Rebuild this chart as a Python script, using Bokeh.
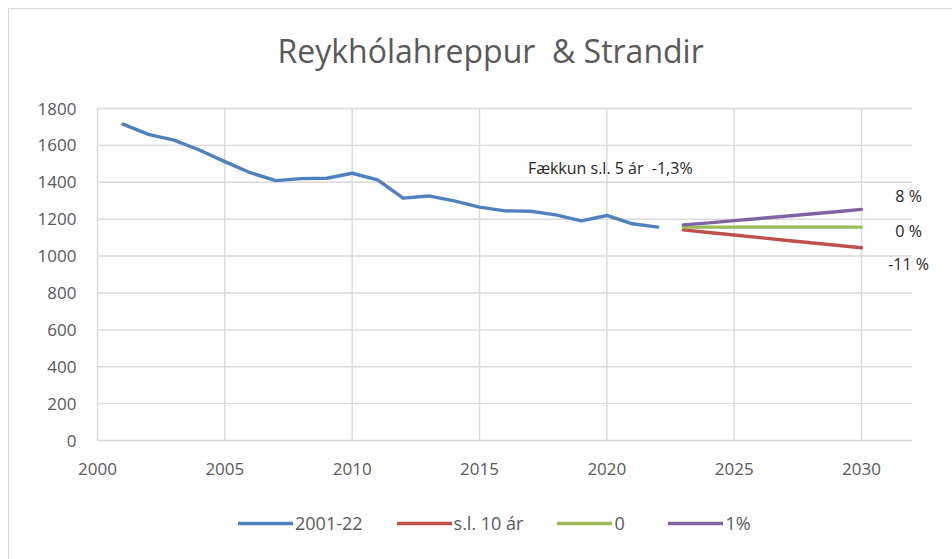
from bokeh.plotting import figure
from bokeh.models import Legend, LegendItem, Label, FixedTicker
from bokeh.embed import file_html
from bokeh.resources import INLINE

# ---- data ----
hist_years = [2001, 2002, 2003, 2004, 2005, 2006, 2007, 2008, 2009, 2010, 2011,
              2012, 2013, 2014, 2015, 2016, 2017, 2018, 2019, 2020, 2021, 2022]
hist_pop = [1715, 1660, 1629, 1575, 1512, 1452, 1409, 1420, 1422, 1449, 1413,
            1314, 1326, 1299, 1265, 1245, 1243, 1223, 1191, 1220, 1175, 1157]
proj_years = [2023, 2024, 2025, 2026, 2027, 2028, 2029, 2030]
proj_10yr = [1142, 1128, 1114, 1100, 1086, 1072, 1059, 1045]
proj_zero = [1157, 1157, 1157, 1157, 1157, 1157, 1157, 1157]
proj_1pct = [1169, 1180, 1192, 1204, 1216, 1228, 1240, 1253]
series_names = ["2001-22", "s.l. 10 ár", "0", "1%"]
end_labels = ["8 %", "0 %", "-11 %"]
title_text = "Reykhólahreppur\u00a0 & Strandir"
note_text = "Fækkun s.l. 5 ár \u00a0-1,3%"
x_ticks = [2000, 2005, 2010, 2015, 2020, 2025, 2030]
y_ticks = [0, 200, 400, 600, 800, 1000, 1200, 1400, 1600, 1800]
x_axis_end = 2032

FONT = "Open Sans"
TXT = "#595959"
GRID = "#d9d9d9"

p = figure(width=952, height=559, x_range=(1996.191, 2033.573), y_range=(-645, 1870.5),
           output_backend="svg", toolbar_location=None,
           min_border_left=0, min_border_right=0, min_border_top=95,
           min_border_bottom=0)
p.border_fill_color = None
p.background_fill_color = None
p.styles = {"box-shadow": "inset 8px 8px 0 0 #ffffff, inset 9px 9px 0 0 #d9d9d9"}

p.title.text = title_text
p.title.align = "left"
p.title.offset = 277
p.title.text_font = FONT
p.title.text_font_size = "32px"
p.title.text_font_style = "normal"
p.title.text_color = TXT
p.title.standoff = 47

p.outline_line_color = None
p.xgrid.grid_line_color = None
p.ygrid.grid_line_color = None
for ax in (p.xaxis, p.yaxis):
    ax.major_tick_line_color = None
    ax.minor_tick_line_color = None
    ax.axis_line_color = None
    ax.major_label_text_font = FONT
    ax.major_label_text_font_size = "17px"
    ax.major_label_text_color = TXT
p.xaxis.ticker = FixedTicker(ticks=x_ticks)
p.yaxis.ticker = FixedTicker(ticks=y_ticks)
p.xaxis.fixed_location = y_ticks[0]
p.yaxis.fixed_location = x_ticks[0]
p.xaxis.major_label_standoff = 16
p.yaxis.major_label_standoff = 15

# gridlines restricted to the chart's value area
p.segment(x0=x_ticks, y0=y_ticks[0], x1=x_ticks, y1=y_ticks[-1],
          line_color=GRID, line_width=1.4)
p.segment(x0=x_ticks[0], y0=y_ticks, x1=x_axis_end, y1=y_ticks,
          line_color=GRID, line_width=1.4)

r1 = p.line(hist_years, hist_pop, line_color="#4F81BD", line_width=3.4, line_join="round", line_cap="round")
r2 = p.line(proj_years, proj_10yr, line_color="#C0504D", line_width=3.4, line_cap="round")
r3 = p.line(proj_years, proj_zero, line_color="#9BBB59", line_width=3.4, line_cap="round")
r4 = p.line(proj_years, proj_1pct, line_color="#8064A2", line_width=3.4, line_cap="round")

legend = Legend(items=[LegendItem(label=series_names[i], renderers=[r])
                       for i, r in enumerate([r1, r2, r3, r4])],
                orientation="horizontal", location=(238, 24))
legend.border_line_color = None
legend.background_fill_alpha = 0
legend.label_text_font = FONT
legend.label_text_font_size = "18px"
legend.label_text_color = TXT
legend.glyph_width = 55
legend.glyph_height = 20
legend.label_standoff = 2
legend.spacing = 34
legend.padding = 0
legend.margin = 0
p.add_layout(legend)

p.add_layout(Label(x=2016.9, y=1480, text=note_text, text_font=FONT,
                   text_font_size="16px", text_color="#262626",
                   text_baseline="middle"))
end_y = [proj_1pct[-1], proj_zero[-1], proj_10yr[-1]]
end_dy = [13, -4, -16]
for t, yv, dy in zip(end_labels, end_y, end_dy):
    p.add_layout(Label(x=2031.85, y=yv, y_offset=dy, text=t, text_font=FONT,
                       text_font_size="16px", text_color="#262626",
                       text_align="center", text_baseline="middle"))

open("out.html", "w").write(file_html(p, INLINE))
